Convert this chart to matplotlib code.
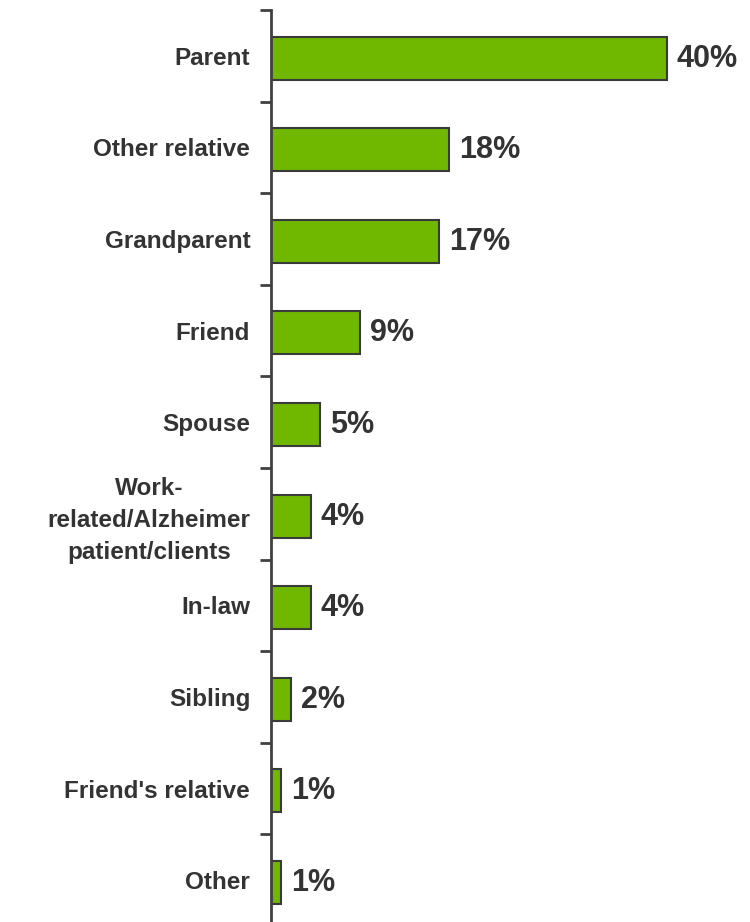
import matplotlib
matplotlib.use("Agg")
import matplotlib.pyplot as plt
import numpy as np

categories = [
    "Parent",
    "Other relative",
    "Grandparent",
    "Friend",
    "Spouse",
    "Work-\nrelated/Alzheimer\npatient/clients",
    "In-law",
    "Sibling",
    "Friend's relative",
    "Other",
]
values = [40, 18, 17, 9, 5, 4, 4, 2, 1, 1]
value_labels = ["40%", "18%", "17%", "9%", "5%", "4%", "4%", "2%", "1%", "1%"]

plt.rcParams["font.family"] = ["Liberation Sans", "DejaVu Sans"]
text_color = "#333333"
axis_color = "#404040"

fig = plt.figure(figsize=(7.5, 9.22), dpi=100)
ax = fig.add_axes([271 / 750, -4 / 922, 445 / 750, 916 / 922])

y = np.arange(len(categories))
ax.barh(y + 0.025, values, height=0.47, color="#70B800", edgecolor="#3a3a3a", linewidth=1.5)

for yi, v, lab in zip(y, values, value_labels):
    ax.text(v + 1.0, yi + 0.03, lab, va="center", ha="left",
            fontsize=22, fontweight="bold", color=text_color)

ax.set_xlim(0, 45)
ax.set_ylim(len(categories) - 0.5, -0.5)

# tick marks on category boundaries, labels at centres
ax.set_yticks(np.arange(len(categories) + 1) - 0.5)
ax.set_yticklabels([])
ax.tick_params(axis="y", which="major", length=8, width=2, color=axis_color)
ax.set_yticks(y, minor=True)
ax.set_yticklabels(categories, minor=True, fontsize=17.5, fontweight="bold",
                   color=text_color, multialignment="center", linespacing=1.5)
ax.tick_params(axis="y", which="minor", length=0, pad=15)

ax.set_xticks([])
for side in ["top", "right", "bottom"]:
    ax.spines[side].set_visible(False)
ax.spines["left"].set_color(axis_color)
ax.spines["left"].set_linewidth(2)

fig.savefig("out.png", dpi=100)
